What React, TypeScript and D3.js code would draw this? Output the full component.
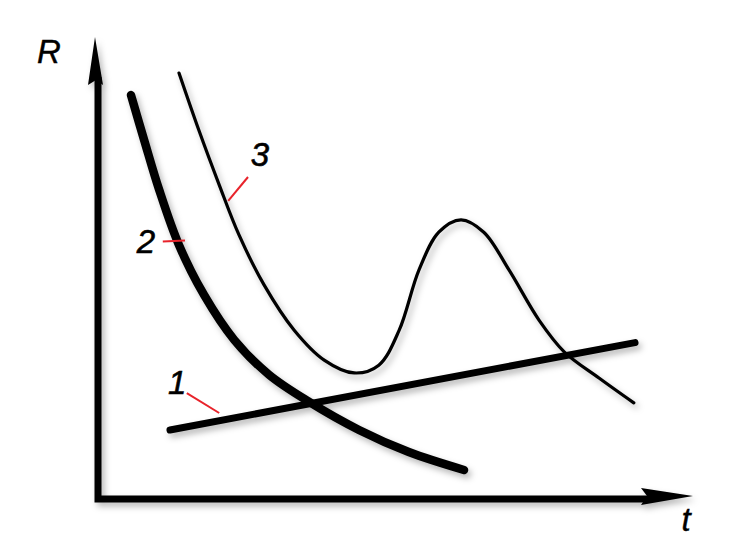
import React from 'react';
import * as d3 from 'd3';

// values in arbitrary units: t from 0 to 10, R from 0 to 10
const line1T = [1.2, 8.95];
const line1R = [1.5, 3.4];

const curve2T = [0.55, 0.77, 1.02, 1.35, 1.77, 2.27, 2.85, 3.52, 4.35, 5.18, 6.1];
const curve2R = [8.78, 7.8, 6.72, 5.52, 4.43, 3.46, 2.7, 2.11, 1.5, 1.02, 0.63];

const curve3T = [1.35, 1.68, 2.02, 2.35, 2.77, 3.27, 3.77, 4.27, 4.68, 5.02, 5.35, 5.68, 6.05, 6.43, 6.85, 7.35, 7.77, 8.35, 8.93];
const curve3R = [9.26, 8.02, 6.83, 5.74, 4.65, 3.67, 3.02, 2.74, 2.91, 3.67, 4.98, 5.8, 6.07, 5.8, 4.98, 3.89, 3.2, 2.63, 2.09];

const labelNames = ['1', '2', '3'];
const labelT = [1.32, 0.8, 2.7];
const labelR = [2.28, 5.35, 7.25];
const leaderFromT = [1.48, 1.08, 2.5];
const leaderFromR = [2.3, 5.6, 7.0];
const leaderToT = [2.02, 1.45, 2.17];
const leaderToR = [1.87, 5.62, 6.48];

const W = 729;
const H = 543;

const App = () => {
  const x = d3.scaleLinear().domain([0, 10]).range([98, 698]);
  const y = d3.scaleLinear().domain([0, 10]).range([499, 39]);

  const gen = d3.line<[number, number]>()
    .x(d => x(d[0]))
    .y(d => y(d[1]))
    .curve(d3.curveCatmullRom.alpha(0.5));

  const pts = (ts: number[], rs: number[]) => ts.map((t, i) => [t, rs[i]] as [number, number]);

  const x0 = x(0), y0 = y(0);
  const yTop = 37, xEnd = 693;

  const font = 'Liberation Sans, Arial, sans-serif';

  return (
    <div style={{ position: 'fixed', left: 0, top: 0, background: '#fff' }}>
      <svg width={W} height={H} style={{ display: 'block' }}>
        <defs>
          <filter id="shadow" x="-10%" y="-10%" width="120%" height="120%">
            <feDropShadow dx="3" dy="4" stdDeviation="3" floodColor="#000" floodOpacity="0.28" />
          </filter>
        </defs>
        <rect width={W} height={H} fill="#fff" />
        <g filter="url(#shadow)">
          {/* axes */}
          <path
            d={`M${x0},${yTop + 40} L${x0},${y0} L${xEnd - 45},${y0}`}
            fill="none" stroke="#000" strokeWidth={7} strokeLinejoin="miter" />
          <path
            d={`M${x0 - 3},${yTop} L${x0 + 5},${yTop + 48} L${x0 - 2},${yTop + 43} L${x0 - 10},${yTop + 48} Z`}
            fill="#000" />
          <path
            d={`M${xEnd},${y0 - 3} L${xEnd - 52},${y0 - 11} L${xEnd - 46},${y0 - 3} L${xEnd - 52},${y0 + 6} Z`}
            fill="#000" />

          {/* curves */}
          <path d={gen(pts(line1T, line1R)) || ''} fill="none" stroke="#000" strokeWidth={7} strokeLinecap="round" />
          <path d={gen(pts(curve2T, curve2R)) || ''} fill="none" stroke="#000" strokeWidth={8.5} strokeLinecap="round" />
          <path d={gen(pts(curve3T, curve3R)) || ''} fill="none" stroke="#000" strokeWidth={3.2} strokeLinecap="round" />
        </g>

        {labelNames.map((n, i) => (
          <g key={n}>
            <line
              x1={x(leaderFromT[i])} y1={y(leaderFromR[i])}
              x2={x(leaderToT[i])} y2={y(leaderToR[i])}
              stroke="#e8232b" strokeWidth={2} />
            <text
              x={x(labelT[i])} y={y(labelR[i])}
              fontFamily={font} fontStyle="italic" fontSize={33}
              stroke="#000" strokeWidth={0.6}
              textAnchor="middle" fill="#000">{n}</text>
          </g>
        ))}

        <text x={49} y={63} fontFamily={font} fontStyle="italic" fontSize={33}
          stroke="#000" strokeWidth={0.4} textAnchor="middle" fill="#000">R</text>
        <text x={686} y={531} fontFamily={font} fontStyle="italic" fontSize={33}
          stroke="#000" strokeWidth={0.4} textAnchor="middle" fill="#000">t</text>
      </svg>
    </div>
  );
};

export default App;
